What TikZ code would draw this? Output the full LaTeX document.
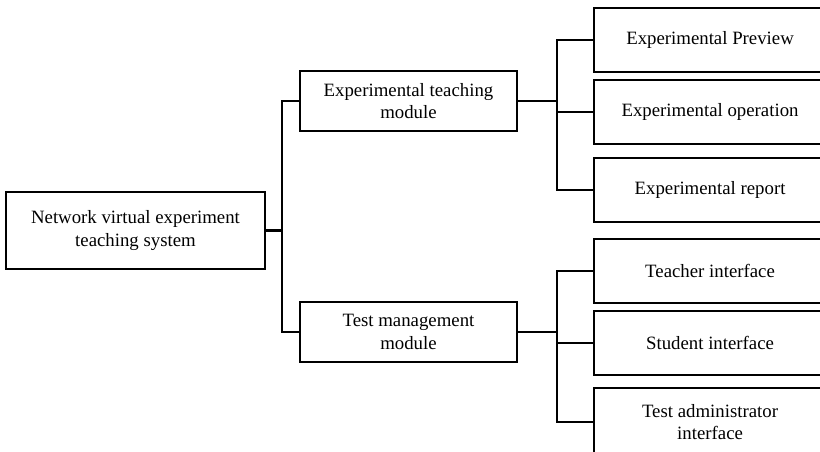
\documentclass[tikz,border=0pt]{standalone}
\usepackage{fontspec}
\setmainfont{Liberation Serif}
\begin{document}
\begin{tikzpicture}[x=1pt, y=-1pt,
  box/.style={draw, line width=2.1pt, align=center, inner sep=0pt,
    font=\fontsize{18.8}{22.5}\selectfont},
  midbox/.style={box, minimum width=217pt, minimum height=60pt},
  leafbox/.style={box, anchor=west, minimum width=232pt, minimum height=64pt},
  link/.style={line width=2.1pt}]
\useasboundingbox (0,0) rectangle (820,452);
\clip (0,0) rectangle (820,452);

% root
\node[box, minimum width=259pt, minimum height=77pt] (root) at (135.5,230.5)
  {Network virtual experiment\\teaching system};

% modules
\node[midbox] (teach) at (408.5,101) {Experimental teaching\\module};
\node[midbox] (test)  at (408.5,332) {Test management\\module};

% leaves
\node[leafbox] (pre) at (593,40)  {Experimental Preview};
\node[leafbox] (op)  at (593,112) {Experimental operation};
\node[leafbox] (rep) at (593,190) {Experimental report};
\node[leafbox] (tea) at (593,271) {Teacher interface};
\node[leafbox] (stu) at (593,343) {Student interface};
\node[leafbox, minimum height=68pt] (adm) at (593,422) {Test administrator\\interface};

% bus lines
\coordinate (trunk) at (282,0);
\coordinate (busA) at (557,0);

\draw[link] (root.east) -- (root.east -| trunk);
\draw[link] (teach.west) -- (teach.west -| trunk) -- (test.west -| trunk) -- (test.west);

\draw[link] (teach.east) -- (teach.east -| busA);
\draw[link] (pre.west) -- (pre.west -| busA) -- (rep.west -| busA) -- (rep.west);
\draw[link] (op.west) -- (op.west -| busA);

\draw[link] (test.east) -- (test.east -| busA);
\draw[link] (tea.west) -- (tea.west -| busA) -- (adm.west -| busA) -- (adm.west);
\draw[link] (stu.west) -- (stu.west -| busA);
\end{tikzpicture}
\end{document}
